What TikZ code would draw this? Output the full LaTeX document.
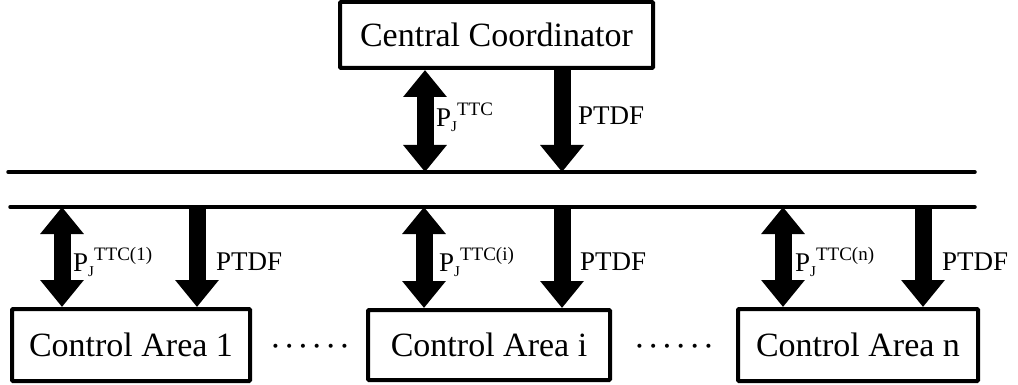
\documentclass[tikz,border=0pt]{standalone}
\usepackage{fontspec}
\setmainfont{Liberation Serif}
\usetikzlibrary{arrows.meta}

% label P_J^{...} with hand-sized sub/superscripts
\newcommand{\pjlabel}[1]{P\raisebox{-5pt}{\fontsize{15}{15}\selectfont J}\raisebox{11pt}{\fontsize{19}{19}\selectfont #1}}
\newcommand{\middots}{\textperiodcentered\hspace{2.5pt}\textperiodcentered\hspace{2.5pt}\textperiodcentered\hspace{2.5pt}\textperiodcentered\hspace{2.5pt}\textperiodcentered\hspace{2.5pt}\textperiodcentered}

\tikzset{
  box/.style={draw, line width=4pt, inner sep=0pt, rounded corners=1pt,
              font=\fontsize{34}{34}\selectfont},
  bus/.style={line width=3.5pt, line cap=round},
  dblarrow/.style={line width=17pt, {Triangle[width=42pt,length=27pt]}-{Triangle[width=42pt,length=27pt]}},
  onearrow/.style={line width=17pt, -{Triangle[width=42pt,length=27pt]}},
  lbl/.style={anchor=west, inner sep=0pt, font=\fontsize{27}{27}\selectfont},
  dotrow/.style={inner sep=0pt, font=\fontsize{34}{34}\selectfont},
}

\begin{document}
\begin{tikzpicture}[x=1pt, y=-1pt]
  \useasboundingbox (0,0) rectangle (1018,385);

  % boxes
  \node[box, minimum width=313pt, minimum height=66pt] (cc) at (496.5,35) {Central Coordinator};
  \node[box, minimum width=238pt, minimum height=72pt] (a1) at (131,345) {Control Area 1};
  \node[box, minimum width=242pt, minimum height=70pt] (ai) at (489,345) {Control Area i};
  \node[box, minimum width=240pt, minimum height=72pt] (an) at (858,345) {Control Area n};

  % the two bus lines
  \coordinate (b1w) at (8,172);
  \coordinate (b1e) at (975,172);
  \coordinate (b2w) at (10,207);
  \coordinate (b2e) at (975,207);
  \draw[bus] (b1w) -- (b1e);
  \draw[bus] (b2w) -- (b2e);

  % arrow columns
  \coordinate (xc1) at (425,0);
  \coordinate (xc2) at (562,0);
  \coordinate (x11) at (62,0);
  \coordinate (x12) at (197,0);
  \coordinate (xi1) at (424,0);
  \coordinate (xi2) at (562,0);
  \coordinate (xn1) at (783,0);
  \coordinate (xn2) at (923,0);

  % coordinator <-> upper bus
  \draw[dblarrow] (cc.south -| xc1) -- (b1w -| xc1);
  \draw[onearrow] (cc.south -| xc2) -- (b1w -| xc2);

  % lower bus <-> control areas
  \draw[dblarrow] (b2w -| x11) -- (a1.north -| x11);
  \draw[onearrow] (b2w -| x12) -- (a1.north -| x12);
  \draw[dblarrow] (b2w -| xi1) -- (ai.north -| xi1);
  \draw[onearrow] (b2w -| xi2) -- (ai.north -| xi2);
  \draw[dblarrow] (b2w -| xn1) -- (an.north -| xn1);
  \draw[onearrow] (b2w -| xn2) -- (an.north -| xn2);

  % labels
  \node[lbl] (lc1) at (436,117) {\pjlabel{TTC}};
  \node[lbl] (lc2) at (578,116) {PTDF};
  \node[lbl] (l11) at (73,262) {\pjlabel{TTC(1)}};
  \node[lbl] (l12) at (216,262) {PTDF};
  \node[lbl] (li1) at (439,262) {\pjlabel{TTC(i)}};
  \node[lbl] (li2) at (580,262) {PTDF};
  \node[lbl] (ln1) at (795,262) {\pjlabel{TTC(n)}};
  \node[lbl] (ln2) at (942,262) {PTDF};

  % ellipses between the areas
  \node[dotrow] (d1) at (310,351) {\middots};
  \node[dotrow] (d2) at (674,351) {\middots};
\end{tikzpicture}
\end{document}
